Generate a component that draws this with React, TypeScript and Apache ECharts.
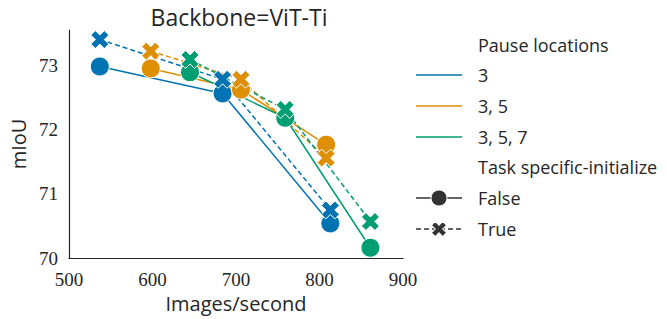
import React, { useEffect, useRef } from "react";
import * as echarts from "echarts";

const pauseLocations = ["3", "3, 5", "3, 5, 7"];
const colors = ["#0173b2", "#de8f05", "#029e73"];

// Images/second and mIoU, Task specific-initialize = False
const falseX = [
  [537, 684, 813],
  [598, 706, 808],
  [645, 759, 861],
];
const falseY = [
  [72.99, 72.57, 70.54],
  [72.96, 72.63, 71.77],
  [72.9, 72.19, 70.16],
];
// Task specific-initialize = True
const trueX = [
  [537, 684, 813],
  [598, 706, 808],
  [645, 759, 861],
];
const trueY = [
  [73.41, 72.79, 70.75],
  [73.23, 72.79, 71.56],
  [73.1, 72.32, 70.57],
];

const xTicks = [500, 600, 700, 800, 900];
const yTicks = [70, 71, 72, 73];

const X_PATH = "M0,2.5L2.5,0L5,2.5L7.5,0L10,2.5L7.5,5L10,7.5L7.5,10L5,7.5L2.5,10L0,7.5L2.5,5Z";

const SANS = "Open Sans";
const SERIF = "Liberation Serif";
const TXT = "#262626";

export default function App() {
  const ref = useRef<HTMLDivElement>(null);
  useEffect(() => {
    if (!ref.current) return;
    echarts.graphic.registerShape("xmark", echarts.graphic.extendPath(X_PATH, {}) as any);
    const chart = echarts.init(ref.current, undefined, { renderer: "svg" });

    const series: any[] = [];
    pauseLocations.forEach((p, i) => {
      series.push({
        name: p + " False",
        type: "line",
        data: falseX[i].map((x, j) => [x, falseY[i][j]]),
        symbol: "circle",
        symbolSize: 19,
        lineStyle: { color: colors[i], width: 1.5, type: "solid" },
        itemStyle: { color: colors[i], borderColor: "#fff", borderWidth: 1 },
        z: 2,
      });
      series.push({
        name: p + " True",
        type: "line",
        data: trueX[i].map((x, j) => [x, trueY[i][j]]),
        symbol: "path://" + X_PATH,
        symbolSize: 18,
        lineStyle: { color: colors[i], width: 1.5, type: [5, 3] },
        itemStyle: { color: colors[i], borderColor: "#fff", borderWidth: 1 },
        z: 2,
      });
    });

    const lx0 = 416, lx1 = 462, tx = 478;
    const rows = [45, 75, 106, 137, 167, 198, 229];
    const legendFont = `18px "${SANS}"`;
    const graphic: any[] = [];
    const addText = (text: string, y: number) =>
      graphic.push({
        type: "text",
        x: tx,
        y,
        style: { text, fill: TXT, font: legendFont, verticalAlign: "middle", textAlign: "left" },
      });
    addText("Pause locations", rows[0]);
    pauseLocations.forEach((p, i) => {
      graphic.push({
        type: "line",
        shape: { x1: lx0, y1: rows[i + 1], x2: lx1, y2: rows[i + 1] },
        style: { stroke: colors[i], lineWidth: 1.5 },
      });
      addText(p, rows[i + 1]);
    });
    addText("Task specific-initialize", rows[4]);
    graphic.push({
      type: "line",
      shape: { x1: lx0, y1: rows[5], x2: lx1, y2: rows[5] },
      style: { stroke: "#333", lineWidth: 1.5 },
    });
    graphic.push({
      type: "circle",
      shape: { cx: (lx0 + lx1) / 2, cy: rows[5], r: 8 },
      style: { fill: "#333", stroke: "#fff", lineWidth: 1 },
    });
    addText("False", rows[5]);
    graphic.push({
      type: "line",
      shape: { x1: lx0, y1: rows[6], x2: lx1, y2: rows[6] },
      style: { stroke: "#333", lineWidth: 1.5, lineDash: [5, 3] },
    });
    graphic.push({
      type: "xmark",
      x: (lx0 + lx1) / 2 - 7.5,
      y: rows[6] - 7.5,
      scaleX: 1.5,
      scaleY: 1.5,
      style: { fill: "#333", stroke: "#fff", lineWidth: 0.7 },
    });
    addText("True", rows[6]);

    chart.setOption({
      animation: false,
      backgroundColor: "#fff",
      title: {
        text: "Backbone=ViT-Ti",
        left: 234,
        top: 0,
        textAlign: "center",
        textStyle: { fontFamily: SANS, fontSize: 23, fontWeight: "normal", color: TXT },
      },
      grid: { left: 66, right: 264, top: 30, bottom: 61 },
      xAxis: {
        type: "value",
        min: xTicks[0],
        max: xTicks[xTicks.length - 1],
        interval: 100,
        name: "Images/second",
        nameLocation: "middle",
        nameGap: 34,
        nameTextStyle: { fontFamily: SANS, fontSize: 20, color: TXT },
        axisLine: { show: true, lineStyle: { color: TXT, width: 1.2 } },
        axisTick: { show: false },
        splitLine: { show: false },
        axisLabel: { fontFamily: SERIF, fontSize: 19, color: TXT, margin: 12 },
      },
      yAxis: {
        type: "value",
        min: yTicks[0],
        max: 73.56,
        interval: 1,
        name: "mIoU",
        nameLocation: "middle",
        nameGap: 37,
        nameTextStyle: { fontFamily: SANS, fontSize: 20, color: TXT },
        axisLine: { show: true, lineStyle: { color: TXT, width: 1.2 } },
        axisTick: { show: false },
        splitLine: { show: false },
        axisLabel: { fontFamily: SERIF, fontSize: 19, color: TXT, margin: 11, showMaxLabel: false },
      },
      graphic,
      series,
    });
    return () => chart.dispose();
  }, []);
  return (
    <div
      ref={ref}
      style={{ position: "absolute", left: 0, top: 0, width: 667, height: 319 }}
    />
  );
}
